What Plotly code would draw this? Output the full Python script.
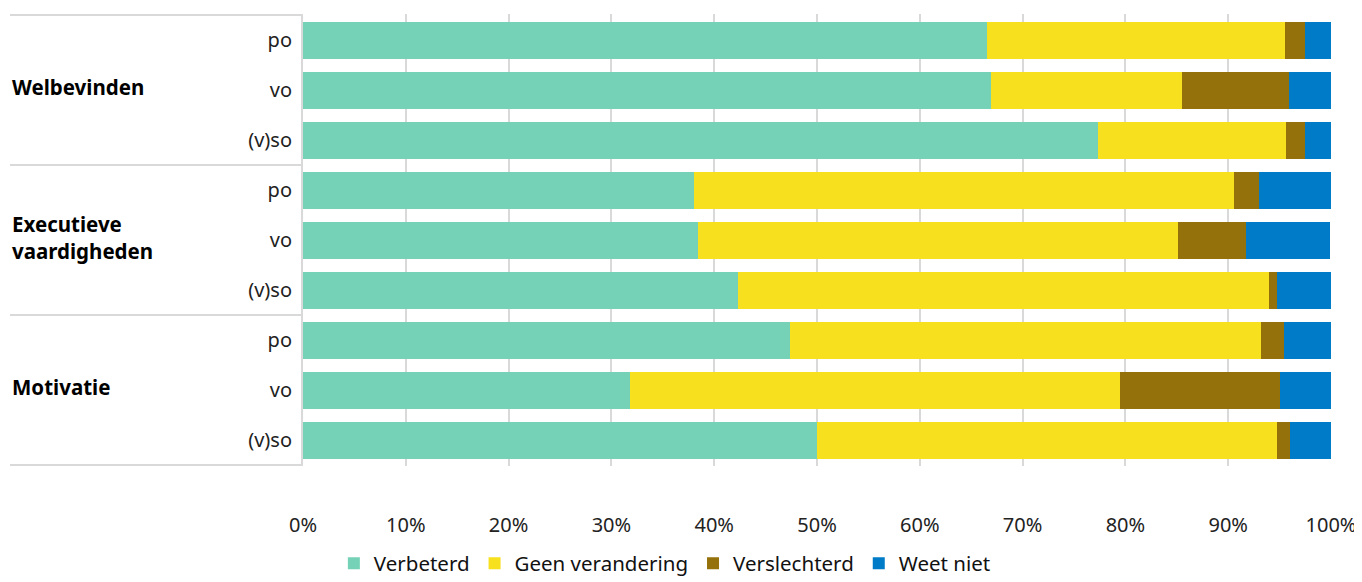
import plotly.graph_objects as go

# rows, top to bottom
groups = ["Welbevinden", "Executieve<br>vaardigheden", "Motivatie"]
levels = ["po", "vo", "(v)so"]
row_labels = [lvl for g in groups for lvl in levels]

series = ["Verbeterd", "Geen verandering", "Verslechterd", "Weet niet"]
colors = ["#76d2b6", "#f7e01d", "#94710a", "#007bc7"]

verbeterd = [66.5, 66.9, 77.3, 38.0, 38.4, 42.3, 47.4, 31.8, 50.0]
geen_verandering = [29.0, 18.6, 18.3, 52.6, 46.7, 51.7, 45.8, 47.7, 44.7]
verslechterd = [2.0, 10.4, 1.9, 2.4, 6.6, 0.7, 2.2, 15.5, 1.3]
weet_niet = [2.5, 4.1, 2.5, 7.0, 8.2, 5.3, 4.6, 5.0, 4.0]

values = [verbeterd, geen_verandering, verslechterd, weet_niet]
xticks = [0, 10, 20, 30, 40, 50, 60, 70, 80, 90, 100]

FONT = "Noto Sans"
rows = list(range(len(row_labels)))

fig = go.Figure()
for name, col, vals in zip(series, colors, values):
    fig.add_trace(go.Bar(
        y=rows, x=vals, orientation="h", name=name,
        marker=dict(color=col, line=dict(width=0)),
        hoverinfo="x+name",
    ))

# group separators in the label column
left = -0.285
for k in range(len(groups) + 1):
    fig.add_shape(type="line", xref="paper", yref="y",
                  x0=left, x1=0, y0=k * 3 - 0.5, y1=k * 3 - 0.5,
                  line=dict(color="#d9d9d9", width=2), layer="below")

for k, g in enumerate(groups):
    fig.add_annotation(text="<b>" + g + "</b>", xref="paper", yref="y",
                       x=left, y=k * 3 + 1, xanchor="left", yanchor="middle",
                       align="left", showarrow=False, yshift=3,
                       font=dict(family=FONT, size=20.5, color="#000000"))

# page body has an 8px margin, margins below compensate for it
fig.update_layout(
    barmode="stack",
    bargap=0.26,
    width=1362, height=582,
    margin=dict(l=295, r=39, t=6, b=124),
    paper_bgcolor="white", plot_bgcolor="white",
    font=dict(family=FONT, size=20, color="#222222"),
    legend=dict(orientation="h", x=0.352, xanchor="center",
                yref="container", y=0.08, yanchor="top",
                traceorder="normal",
                font=dict(family=FONT, size=20.5, color="#111111")),
    xaxis=dict(range=[0, 100], tickvals=xticks,
               ticktext=[f"{v}%" for v in xticks],
               showgrid=True, gridcolor="#d9d9d9", gridwidth=2,
               zeroline=False, showline=False, ticks="",
               ticklabelstandoff=45, fixedrange=True),
    yaxis=dict(tickvals=rows, ticktext=row_labels, autorange="reversed",
               showgrid=False, zeroline=False,
               showline=True, linecolor="#d9d9d9", linewidth=2,
               ticks="", ticklabelstandoff=5, fixedrange=True),
)

fig.write_html("out.html")
